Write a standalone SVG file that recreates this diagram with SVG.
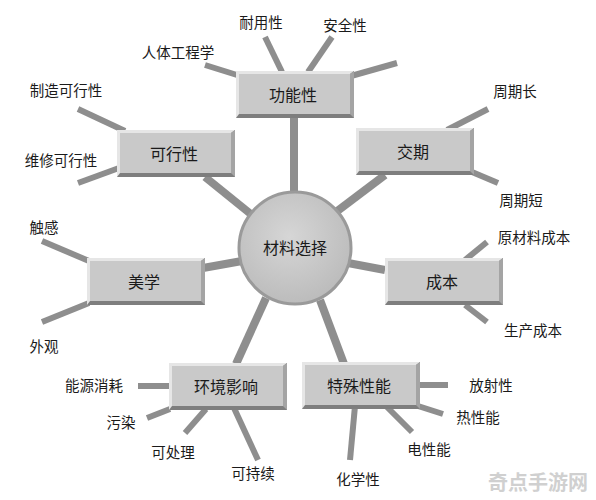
<svg xmlns="http://www.w3.org/2000/svg" width="596" height="500" viewBox="0 0 596 500">
<style>
.c{stroke:#8e8e8e;stroke-width:8;fill:none}
.l{stroke:#8e8e8e;stroke-width:6;fill:none}
.bt{font-family:"Noto Sans CJK SC","Noto Sans",sans-serif;font-size:16px;fill:#1a1a1a;text-anchor:middle;dominant-baseline:central}
.lt{font-family:"Noto Sans CJK SC","Noto Sans",sans-serif;font-size:14.5px;fill:#1a1a1a;text-anchor:middle;dominant-baseline:central}
.wm{font-family:"Noto Sans CJK SC","Noto Sans",sans-serif;font-size:20px;font-weight:bold;fill:#d0d0d0;text-anchor:middle;dominant-baseline:central}
</style>
<defs>
<symbol id="box" viewBox="0 0 118 47" width="118" height="47">
<rect x="0" y="0" width="118" height="47" fill="#7e7e7e"/>
<polygon points="0,0 118,0 114,3 3,3 3,43 0,47" fill="#e6e6e6"/>
<polygon points="118,0 118,47 114,43 114,3" fill="#a4a4a4"/>
<rect x="3" y="3" width="111" height="40" fill="#c9c9c9"/>
</symbol>
<radialGradient id="cg" cx="0.45" cy="0.4" r="0.6">
<stop offset="0" stop-color="#d6d6d6"/>
<stop offset="1" stop-color="#bcbcbc"/>
</radialGradient>
</defs>
<rect width="596" height="500" fill="#ffffff"/>
<g id="connectors">
<line class="c" x1="294" y1="117" x2="294" y2="195"/>
<line class="c" x1="205" y1="177" x2="252" y2="215"/>
<line class="c" x1="385" y1="175" x2="336" y2="212"/>
<line class="c" x1="203" y1="268" x2="242" y2="261"/>
<line class="c" x1="348" y1="263" x2="385" y2="270"/>
<line class="c" x1="266" y1="298" x2="236" y2="364"/>
<line class="c" x1="320" y1="300" x2="344" y2="364"/>
<line class="l" x1="205" y1="65" x2="237" y2="75"/>
<line class="l" x1="265" y1="37" x2="282" y2="72"/>
<line class="l" x1="332" y1="37" x2="308" y2="72"/>
<line class="l" x1="351" y1="76" x2="397" y2="63"/>
<line class="l" x1="78" y1="109" x2="125" y2="131"/>
<line class="l" x1="119" y1="168" x2="78" y2="183"/>
<line class="l" x1="488" y1="109" x2="447" y2="130"/>
<line class="l" x1="472" y1="172" x2="498" y2="183"/>
<line class="l" x1="42" y1="241" x2="89" y2="261"/>
<line class="l" x1="89" y1="303" x2="42" y2="322"/>
<line class="l" x1="487" y1="242" x2="465" y2="260"/>
<line class="l" x1="465" y1="305" x2="487" y2="322"/>
<line class="l" x1="138" y1="386" x2="170" y2="386"/>
<line class="l" x1="147" y1="418" x2="170" y2="409"/>
<line class="l" x1="185" y1="433" x2="206" y2="409"/>
<line class="l" x1="234" y1="408" x2="258" y2="460"/>
<line class="l" x1="418" y1="385" x2="448" y2="385"/>
<line class="l" x1="418" y1="406" x2="443" y2="414"/>
<line class="l" x1="386" y1="406" x2="412" y2="432"/>
<line class="l" x1="355" y1="406" x2="350" y2="460"/>
</g>
<g id="center">
<circle cx="295" cy="248" r="56" fill="url(#cg)" stroke="#9a9a9a" stroke-width="3"/>
<text class="bt" x="295" y="247" font-size="17">材料选择</text>
</g>
<g id="n-gongneng"><use href="#box" x="236" y="71"/><text class="bt" x="293" y="94">功能性</text></g>
<g id="n-kexing"><use href="#box" x="117" y="130"/><text class="bt" x="174" y="153">可行性</text></g>
<g id="n-jiaoqi"><use href="#box" x="356" y="128"/><text class="bt" x="413" y="151">交期</text></g>
<g id="n-meixue"><use href="#box" x="87" y="258"/><text class="bt" x="144" y="281">美学</text></g>
<g id="n-chengben"><use href="#box" x="385" y="258"/><text class="bt" x="442" y="281">成本</text></g>
<g id="n-huanjing"><use href="#box" x="169" y="363"/><text class="bt" x="226" y="386">环境影响</text></g>
<g id="n-teshu"><use href="#box" x="302" y="362"/><text class="bt" x="359" y="385">特殊性能</text></g>
<g id="leaves">
<text class="lt" x="178" y="51">人体工程学</text>
<text class="lt" x="261" y="21">耐用性</text>
<text class="lt" x="345" y="24">安全性</text>
<text class="lt" x="66" y="89">制造可行性</text>
<text class="lt" x="61" y="159">维修可行性</text>
<text class="lt" x="515" y="90">周期长</text>
<text class="lt" x="521" y="199">周期短</text>
<text class="lt" x="44" y="226">触感</text>
<text class="lt" x="44" y="345">外观</text>
<text class="lt" x="534" y="236">原材料成本</text>
<text class="lt" x="533" y="329">生产成本</text>
<text class="lt" x="94" y="384">能源消耗</text>
<text class="lt" x="121" y="421">污染</text>
<text class="lt" x="173" y="451">可处理</text>
<text class="lt" x="253" y="472">可持续</text>
<text class="lt" x="491" y="384">放射性</text>
<text class="lt" x="478" y="416">热性能</text>
<text class="lt" x="429" y="448">电性能</text>
<text class="lt" x="358" y="478">化学性</text>
</g>
<text class="wm" x="538" y="481">奇点手游网</text>
</svg>
